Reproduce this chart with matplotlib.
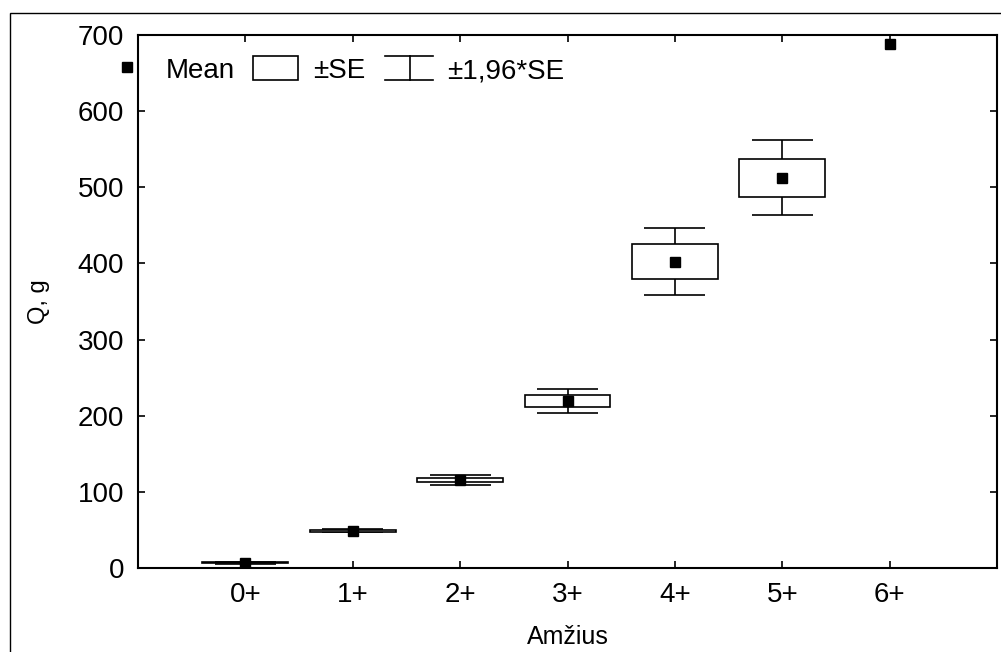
import numpy as np
import matplotlib
matplotlib.use("Agg")
import matplotlib.pyplot as plt
from matplotlib.patches import Rectangle

plt.rcParams['font.family'] = ['Liberation Sans', 'DejaVu Sans']

# data
ages = ['0+', '1+', '2+', '3+', '4+', '5+', '6+']
means = [7, 49, 115.5, 219.5, 402.5, 512.5, 688]
se = [0.7, 1.2, 3.2, 8.0, 22.5, 25.0, np.nan]   # 6+ has no SE
yticks = [0, 100, 200, 300, 400, 500, 600, 700]

x = np.arange(len(ages))
m = np.array(means)
s = np.array(se)
ok = ~np.isnan(s)

fig = plt.figure(figsize=(10.01, 6.52), dpi=100)
ax = fig.add_axes([138 / 1001, 1 - 568 / 652, 859 / 1001, 533 / 652])

# outer frame (cut off at right and bottom)
fig.patches.append(Rectangle((10 / 1001, -0.2), 1.2, 1.2 - 13 / 652,
                             transform=fig.transFigure, fill=False,
                             edgecolor='black', linewidth=1.0))

lw = 1.2
# whiskers ±1.96*SE
ax.vlines(x[ok], m[ok] - 1.96 * s[ok], m[ok] + 1.96 * s[ok], color='black', lw=lw, zorder=2)
ax.hlines(m[ok] + 1.96 * s[ok], x[ok] - 0.285, x[ok] + 0.285, color='black', lw=lw, zorder=2)
ax.hlines(m[ok] - 1.96 * s[ok], x[ok] - 0.285, x[ok] + 0.285, color='black', lw=lw, zorder=2)
# boxes ±SE
ax.bar(x[ok], 2 * s[ok], bottom=m[ok] - s[ok], width=0.8, facecolor='white',
       edgecolor='black', linewidth=lw, zorder=3)
# means
ax.plot(x, m, 's', color='black', markersize=7, zorder=4)

ax.set_xlim(-1, 7)
ax.set_ylim(0, 700)
ax.set_xticks(x)
ax.set_xticklabels(ages)
ax.set_yticks(yticks)
ax.tick_params(direction='in', length=5, width=1.2, top=True, right=True,
               labelsize=20, pad=10)
ax.tick_params(axis='x', pad=10)
for sp in ax.spines.values():
    sp.set_linewidth(1.5)

ax.set_xlabel('Amžius', fontsize=18, labelpad=12)
ax.set_ylabel('Q, g', fontsize=17, labelpad=20)

# legend drawn by hand
tr = ax.transAxes
ax.plot([-0.0128], [0.940], 's', color='black', markersize=7, transform=tr, clip_on=False)
ax.text(0.0326, 0.919, 'Mean', fontsize=20, transform=tr, va='baseline')
ax.add_patch(Rectangle((0.1339, 0.9156), 0.0524, 0.045, transform=tr,
                       facecolor='white', edgecolor='black', lw=lw))
ax.text(0.2037, 0.919, '±SE', fontsize=20, transform=tr, va='baseline')
ax.plot([0.2875, 0.3434], [0.9606, 0.9606], color='black', lw=lw, transform=tr)
ax.plot([0.2875, 0.3434], [0.9156, 0.9156], color='black', lw=lw, transform=tr)
ax.plot([0.3166, 0.3166], [0.9156, 0.9606], color='black', lw=lw, transform=tr)
ax.text(0.3597, 0.919, '±1,96*SE', fontsize=20, transform=tr, va='baseline')

fig.savefig('out.png', dpi=100)
